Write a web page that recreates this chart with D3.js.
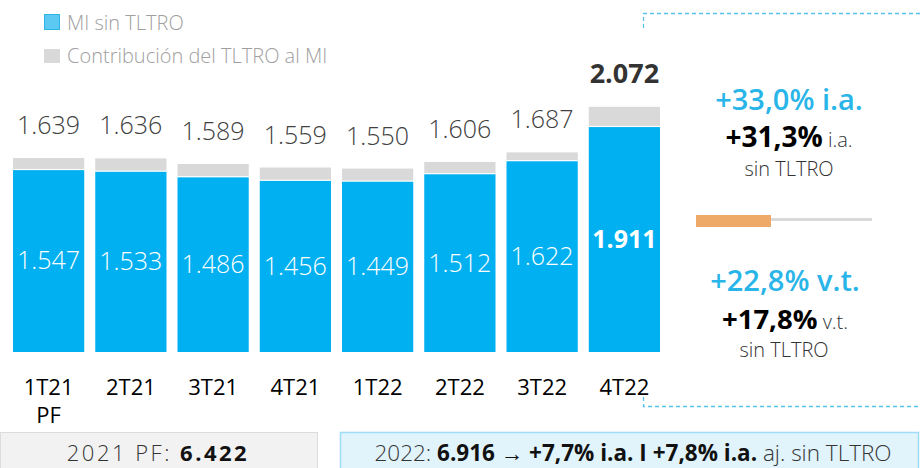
<!DOCTYPE html>
<html>
<head>
<meta charset="utf-8">
<script src="https://cdn.jsdelivr.net/npm/d3@7"></script>
<style>
  body { margin: 0; background: #fff; }
  svg { display: block; font-family: "Open Sans", "Noto Sans", sans-serif; }
</style>
</head>
<body>
<div id="chart"></div>
<script>
// datos del gráfico
const trimestres = ["1T21", "2T21", "3T21", "4T21", "1T22", "2T22", "3T22", "4T22"];
const miSinTltro = [1547, 1533, 1486, 1456, 1449, 1512, 1622, 1911];
const miTotal = [1639, 1636, 1589, 1559, 1550, 1606, 1687, 2072];
const fmt = v => d3.format(",")(v).replace(",", ".");

const width = 920, height = 468;
const svg = d3.select("#chart").append("svg")
    .attr("width", width)
    .attr("height", height);

const base = 352;
const x = d3.scaleBand().domain(trimestres).range([13, 660]).paddingInner(0.134).paddingOuter(0);
const y = d3.scaleLinear().domain([0, 2100]).range([base, 103.5]);

// leyenda
const legend = svg.append("g");
legend.append("rect").attr("x", 44.5).attr("y", 14.5).attr("width", 15).attr("height", 15)
    .attr("fill", "#5cc9f2").attr("stroke", "#2cb4e8");
legend.append("text").attr("x", 67).attr("y", 30).attr("font-size", 20).attr("font-weight", 300)
    .attr("fill", "#a0a0a0").text("MI sin TLTRO");
legend.append("rect").attr("x", 44).attr("y", 49).attr("width", 16).attr("height", 14)
    .attr("fill", "#d9d9d9");
legend.append("text").attr("x", 67).attr("y", 63).attr("font-size", 20).attr("font-weight", 300)
    .attr("fill", "#a0a0a0").text("Contribución del TLTRO al MI");

// barras
const g = svg.append("g");
g.selectAll(".tltro").data(trimestres).enter().append("rect")
    .attr("x", d => x(d)).attr("width", x.bandwidth())
    .attr("y", (d, i) => y(miTotal[i]))
    .attr("height", (d, i) => y(miSinTltro[i]) - y(miTotal[i]))
    .attr("fill", "#d9d9d9");
g.selectAll(".sin").data(trimestres).enter().append("rect")
    .attr("x", d => x(d)).attr("width", x.bandwidth())
    .attr("y", (d, i) => y(miSinTltro[i]) + 1.2)
    .attr("height", (d, i) => base - y(miSinTltro[i]) - 1.2)
    .attr("fill", "#00b0f0");

const last = trimestres.length - 1;
g.selectAll(".tot").data(trimestres).enter().append("text")
    .attr("x", d => x(d) + x.bandwidth() / 2)
    .attr("y", (d, i) => y(miTotal[i]) - 24)
    .attr("text-anchor", "middle")
    .attr("font-size", (d, i) => i === last ? 27 : 25)
    .attr("font-weight", (d, i) => i === last ? 700 : 300)
    .attr("fill", (d, i) => i === last ? "#333" : "#404040")
    .text((d, i) => fmt(miTotal[i]));
g.selectAll(".inn").data(trimestres).enter().append("text")
    .attr("x", d => x(d) + x.bandwidth() / 2)
    .attr("y", (d, i) => (y(miSinTltro[i]) + base) / 2 + 9)
    .attr("text-anchor", "middle").attr("font-size", 25)
    .attr("font-weight", (d, i) => i === last ? 700 : 300)
    .attr("fill", "#fff")
    .text((d, i) => fmt(miSinTltro[i]));

// eje x
const xAxis = g.append("g");
xAxis.selectAll("text").data(trimestres).enter().append("text")
    .attr("x", d => x(d) + x.bandwidth() / 2).attr("y", 395)
    .attr("text-anchor", "middle").attr("font-size", 22).attr("fill", "#000")
    .text(d => d);
xAxis.append("text").attr("x", x("1T21") + x.bandwidth() / 2).attr("y", 423)
    .attr("text-anchor", "middle").attr("font-size", 22).attr("fill", "#000").text("PF");

// panel derecho
const dash = "4,3", dashCol = "#59c3ee";
const panel = svg.append("g").attr("fill", "none").attr("stroke", dashCol)
    .attr("stroke-width", 1.3).attr("stroke-dasharray", dash);
panel.append("path").attr("d", "M643.5,28V13.5H920");
panel.append("path").attr("d", "M643.5,397V406.5H920");

const cx = 789;
svg.append("text").attr("x", cx).attr("y", 110).attr("text-anchor", "middle")
    .attr("font-size", 29).attr("font-weight", 600).attr("fill", "#29b5e8").text("+33,0% i.a.");
const t2 = svg.append("text").attr("x", cx).attr("y", 147).attr("text-anchor", "middle").attr("fill", "#000");
t2.append("tspan").attr("font-size", 28).attr("font-weight", 700).text("+31,3%");
t2.append("tspan").attr("font-size", 20).attr("font-weight", 300).attr("fill", "#333").text(" i.a.");
svg.append("text").attr("x", cx).attr("y", 176).attr("text-anchor", "middle")
    .attr("font-size", 20).attr("font-weight", 300).attr("fill", "#333").text("sin TLTRO");

svg.append("line").attr("x1", 771).attr("x2", 872).attr("y1", 219.5).attr("y2", 219.5)
    .attr("stroke", "#d9d9d9").attr("stroke-width", 3);
svg.append("rect").attr("x", 696).attr("y", 215).attr("width", 75).attr("height", 12).attr("fill", "#eea867");

svg.append("text").attr("x", cx - 4).attr("y", 291).attr("text-anchor", "middle")
    .attr("font-size", 29).attr("font-weight", 600).attr("fill", "#29b5e8").text("+22,8% v.t.");
const t4 = svg.append("text").attr("x", cx - 4).attr("y", 329).attr("text-anchor", "middle").attr("fill", "#000");
t4.append("tspan").attr("font-size", 27.5).attr("font-weight", 700).text("+17,8%");
t4.append("tspan").attr("font-size", 20).attr("font-weight", 300).attr("fill", "#333").text(" v.t.");
svg.append("text").attr("x", cx - 5).attr("y", 357).attr("text-anchor", "middle")
    .attr("font-size", 20).attr("font-weight", 300).attr("fill", "#333").text("sin TLTRO");

// cajas inferiores
svg.append("rect").attr("x", 0.5).attr("y", 432.5).attr("width", 317).attr("height", 40)
    .attr("fill", "#f2f2f2").attr("stroke", "#dcdcdc");
const b1 = svg.append("text").attr("x", 158).attr("y", 461).attr("text-anchor", "middle")
    .attr("font-size", 22).attr("letter-spacing", 2.5).attr("fill", "#333");
b1.append("tspan").attr("font-weight", 300).text("2021 PF: ");
b1.append("tspan").attr("font-weight", 700).attr("fill", "#111").text("6.422");

svg.append("rect").attr("x", 340.5).attr("y", 432.5).attr("width", 578).attr("height", 40)
    .attr("fill", "#e1f4fc").attr("stroke", "#9fdcf5").attr("stroke-width", 1.5);
const b2 = svg.append("text").attr("x", 633).attr("y", 461).attr("text-anchor", "middle")
    .attr("font-size", 22.5).attr("fill", "#333");
b2.append("tspan").attr("font-weight", 300).text("2022: ");
b2.append("tspan").attr("font-weight", 700).attr("fill", "#111").text("6.916 → +7,7% i.a. I +7,8% i.a.");
b2.append("tspan").attr("font-weight", 300).text(" aj. sin TLTRO");
</script>
</body>
</html>
